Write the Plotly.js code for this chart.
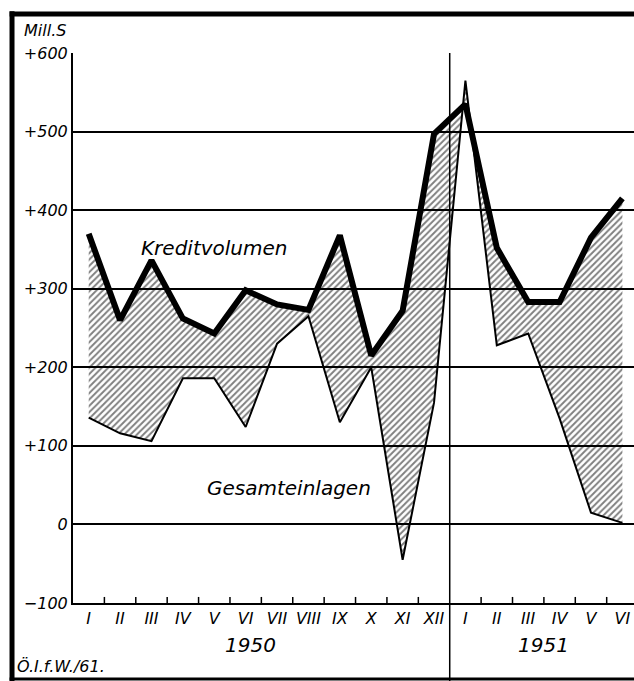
<!DOCTYPE html>
<html><head><meta charset="utf-8">
<script src="https://cdn.plot.ly/plotly-3.0.1.min.js"></script>
<style>html,body{margin:0;padding:0;background:#fff}</style>
</head><body><div id="chart" style="width:634px;height:681px"></div>
<script>
// Months (1950: I–XII, 1951: I–VI)
const monthLabels = ['I','II','III','IV','V','VI','VII','VIII','IX','X','XI','XII','I','II','III','IV','V','VI'];
const monthIndex = [0,1,2,3,4,5,6,7,8,9,10,11,12,13,14,15,16,17];
// Mill. S
const kreditvolumen = [370,260,336,262,243,298,280,273,368,215,272,497,535,352,283,283,365,415];
const gesamteinlagen = [136,116,106,186,186,124,230,265,130,200,-45,155,565,228,243,135,15,2];
const yTickVals = [-100,0,100,200,300,400,500,600];
const yTickText = ['\u2212100','0','+100','+200','+300','+400','+500','+600'];
const yearLabels = ['1950','1951'];
const yearCenters = [5.15, 14.5];
const monthBoundaries = [0.5,1.5,2.5,3.5,4.5,5.5,6.5,7.5,8.5,9.5,10.5,12.5,13.5,14.5,15.5,16.5];

const FONT = 'DejaVu Sans, sans-serif';
const XRANGE = [-0.5,17.37];

const traces = [
  {x: monthIndex, y: gesamteinlagen, type:'scatter', mode:'lines', name:'Gesamteinlagen',
   line:{color:'#000', width:2}, hoverinfo:'skip'},
  {x: monthIndex, y: kreditvolumen, type:'scatter', mode:'lines', name:'Kreditvolumen',
   line:{color:'#000', width:6}, fill:'tonexty', fillcolor:'rgba(0,0,0,0)',
   fillpattern:{shape:'/', fgcolor:'#000', bgcolor:'rgba(0,0,0,0)', size:4.5, solidity:0.42, fillmode:'overlay'},
   hoverinfo:'skip'}
];

const annotations = [
  {x:4.02, y:352, xref:'x', yref:'y', text:'Kreditvolumen', showarrow:false,
   font:{family:FONT, size:20, color:'#000', style:'italic'}},
  {x:6.38, y:47, xref:'x', yref:'y', text:'Gesamteinlagen', showarrow:false,
   font:{family:FONT, size:20, color:'#000', style:'italic'}},
  {x:-0.091, y:1.04, xref:'paper', yref:'paper', xanchor:'left', yanchor:'middle', text:'Mill.S', showarrow:false,
   font:{family:FONT, size:16, color:'#000', style:'italic'}},
  {x:-0.103, y:-0.116, xref:'paper', yref:'paper', xanchor:'left', yanchor:'middle', text:'\u00D6.I.f.W./61.', showarrow:false,
   font:{family:FONT, size:16, color:'#000', style:'italic'}}
];
yearLabels.forEach((t,i)=>annotations.push({x:yearCenters[i], y:-0.076, xref:'x', yref:'paper', yanchor:'middle',
  text:t, showarrow:false, font:{family:FONT, size:20, color:'#000', style:'italic'}}));

const shapes = [
  // year divider
  {type:'line', xref:'x', yref:'paper', x0:11.5, x1:11.5, y0:-0.142, y1:1, line:{color:'#000', width:1.5}},
  // outer frame
  {type:'line', xref:'paper', yref:'paper', x0:-0.1087, x1:-0.1087, y0:-0.142, y1:1.076, line:{color:'#000', width:5}},
  {type:'line', xref:'paper', yref:'paper', x0:-0.113, x1:1.01, y0:1.0709, y1:1.0709, line:{color:'#000', width:5}},
  {type:'line', xref:'paper', yref:'paper', x0:-0.113, x1:1.01, y0:-0.138, y1:-0.138, line:{color:'#000', width:3}}
];
// small inward tick marks at month boundaries on the bottom axis
monthBoundaries.forEach(b=>shapes.push({type:'line', xref:'x', yref:'paper', x0:b, x1:b, y0:0, y1:0.011,
  line:{color:'#000', width:1.5}}));

const layout = {
  width:634, height:681, margin:{l:73, r:0, t:53, b:78},
  paper_bgcolor:'#fff', plot_bgcolor:'#fff', showlegend:false,
  font:{family:FONT, color:'#000'},
  xaxis:{range:XRANGE, tickmode:'array', tickvals:monthIndex, ticktext:monthLabels,
    ticks:'', showgrid:false, zeroline:false, showline:true, linecolor:'#000', linewidth:2,
    tickfont:{family:FONT, size:16, color:'#000', style:'italic'}},
  yaxis:{range:[-100,600], tickmode:'array', tickvals:yTickVals, ticktext:yTickText,
    ticks:'', showgrid:true, gridcolor:'#000', gridwidth:2, zeroline:false,
    showline:true, linecolor:'#000', linewidth:2,
    tickfont:{family:FONT, size:16, color:'#000', style:'italic'}},
  annotations: annotations,
  shapes: shapes
};

Plotly.newPlot('chart', traces, layout, {displayModeBar:false, staticPlot:true});
</script>
</body></html>
